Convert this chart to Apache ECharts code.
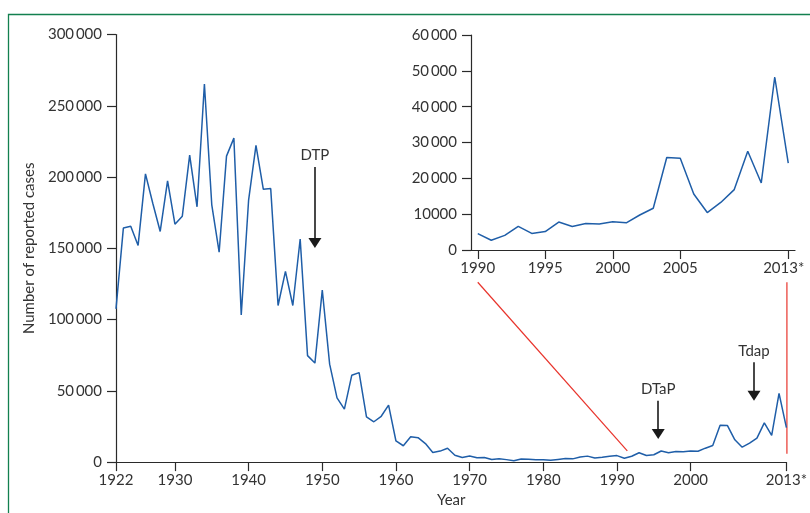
<!DOCTYPE html>
<html><head><meta charset="utf-8">
<script src="https://cdn.jsdelivr.net/npm/echarts@6/dist/echarts.min.js"></script>
<style>html,body{margin:0;padding:0;background:#fff}#c{width:810px;height:513px}</style>
</head><body><div id="c"></div>
<script>
// ---- data (US reported pertussis cases per year) ----
const startYear = 1922;
const cases = [107473,164191,165418,152003,202210,181411,161799,197371,166914,172559,
  215343,179135,265269,180518,147237,214652,227319,103188,183866,222202,
  191383,191890,109873,133792,109860,156517,74715,69479,120718,68687,
  45030,37129,60886,62786,31732,28295,32148,40005,14809,11468,
  17749,17135,13005,6799,7717,9718,4810,3285,4249,3036,
  3287,1759,2402,1738,1010,2177,2063,1623,1730,1248,
  1895,2463,2276,3589,4195,2823,3450,4157,4570,2719,
  4083,6586,4617,5137,7796,6564,7405,7288,7867,7580,
  9771,11647,25827,25616,15632,10454,13278,16858,27550,18719,
  48277,24231];
const insetStartYear = 1990;

// tick values and labels
const mainXTicks = [1922,1930,1940,1950,1960,1970,1980,1990,2000,2013];
const insetXTicks = [1990,1995,2000,2005,2013];
const mainYLabels = ['0','50\u2009000','100\u2009000','150\u2009000','200\u2009000','250\u2009000','300\u2009000'];
const insetYLabels = ['0','10000','20\u2009000','30\u2009000','40\u2009000','50\u2009000','60\u2009000'];

// vaccine annotations
const arrowLabels = ['DTP','DTaP','Tdap'];
const arrowYears  = [1949, 1995.6, 2008.6];
const arrowFrom   = [207000, 43000, 70000];
const arrowTo     = [153800, 19800, 46600];

// zoom connector lines: inset point -> main chart point
const connInset = [[1990,-9000],[2013,-9000]];
const connMain  = [[1991.4,7900],[2013,5800]];
const connVertical = [false, true];

const mainData = cases.map((v,i)=>[startYear+i, v]);
const insetData = mainData.filter(d=>d[0]>=insetStartYear);

const FONT = 'Lato';
const FS = 15;
const TXT = '#333';
const AX = '#2a2a2a';
const BLUE = '#1f5ea8';

const chart = echarts.init(document.getElementById('c'), null, {renderer:'canvas'});
const axisCommon = {
  axisLine:{show:true, lineStyle:{color:AX, width:1.2}},
  splitLine:{show:false},
};
chart.setOption({
  animation:false,
  textStyle:{fontFamily:FONT},
  grid:[
    {left:116, right:21, top:34.5, bottom:49.7, containLabel:false},
    {left:471, right:15, top:35, bottom:263, containLabel:false}
  ],
  xAxis:[
    Object.assign({}, axisCommon, {
      type:'value', gridIndex:0, min:1922, max:2013,
      name:'Year', nameLocation:'middle', nameGap:30,
      nameTextStyle:{color:TXT, fontSize:FS, fontFamily:FONT},
      axisTick:{show:true, length:9, lineStyle:{color:AX, width:1.2}, customValues:mainXTicks},
      axisLabel:{color:TXT, fontSize:FS, fontFamily:FONT, margin:11, customValues:mainXTicks,
        formatter:v=> v===2013 ? '2013*' : String(v)}
    }),
    Object.assign({}, axisCommon, {
      type:'value', gridIndex:1, min:1989.5, max:2013.5,
      axisTick:{show:true, length:9, lineStyle:{color:AX, width:1.2}, customValues:insetXTicks},
      axisLabel:{color:TXT, fontSize:FS, fontFamily:FONT, margin:11, customValues:insetXTicks,
        formatter:v=> v===2013 ? '{s|2013*}' : String(v),
        rich:{s:{padding:[0,9,0,0], fontSize:FS, color:TXT, fontFamily:FONT}}}
    })
  ],
  yAxis:[
    Object.assign({}, axisCommon, {
      type:'value', gridIndex:0, min:0, max:300000, interval:50000,
      axisTick:{show:true, length:9, lineStyle:{color:AX, width:1.2}},
      name:'Number of reported cases', nameLocation:'middle', nameGap:78, nameRotate:90,
      nameTextStyle:{color:TXT, fontSize:FS, fontFamily:FONT},
      axisLabel:{color:TXT, fontSize:FS, fontFamily:FONT, margin:14, formatter:(v,i)=>mainYLabels[i]}
    }),
    Object.assign({}, axisCommon, {
      type:'value', gridIndex:1, min:0, max:60000, interval:10000,
      axisTick:{show:true, length:9, lineStyle:{color:AX, width:1.2}},
      axisLabel:{color:TXT, fontSize:FS, fontFamily:FONT, margin:14, formatter:(v,i)=>insetYLabels[i]}
    })
  ],
  series:[
    {type:'line', xAxisIndex:0, yAxisIndex:0, data:mainData, showSymbol:false,
     lineStyle:{color:BLUE, width:1.5}, itemStyle:{color:BLUE}, z:3,
     markLine:{
       silent:true, animation:false,
       symbol:['none','triangle'], symbolSize:[13,10],
       lineStyle:{color:'#1a1a1a', width:1.6, type:'solid'},
       itemStyle:{color:'#1a1a1a'},
       label:{show:true, position:'start', distance:4, formatter:'{b}', color:TXT, fontSize:FS, fontFamily:FONT},
       emphasis:{disabled:true},
       data: arrowLabels.map((l,i)=>[
         {coord:[arrowYears[i], arrowFrom[i]], name:l},
         {coord:[arrowYears[i], arrowTo[i]]}
       ])
     }},
    {type:'line', xAxisIndex:1, yAxisIndex:1, data:insetData, showSymbol:false,
     lineStyle:{color:BLUE, width:1.5}, itemStyle:{color:BLUE}}
  ]
});

// frame and zoom connector lines, positioned through the axes
const graphics = [
  {type:'rect', silent:true, shape:{x:8.5, y:14.5, width:900, height:600},
   style:{fill:null, stroke:'#13804f', lineWidth:1.3}}
];
connInset.forEach((p,i)=>{
  const a = chart.convertToPixel({gridIndex:1}, p);
  const b = chart.convertToPixel({gridIndex:0}, connMain[i]);
  const x1 = connVertical[i] ? b[0] + 0.5 : a[0];
  const x2 = connVertical[i] ? b[0] + 0.5 : b[0];
  graphics.push({type:'line', silent:true, shape:{x1:x1, y1:a[1], x2:x2, y2:b[1]},
    style:{stroke:'#e8332b', lineWidth:1.2}});
});
chart.setOption({graphic:graphics});
</script></body></html>
